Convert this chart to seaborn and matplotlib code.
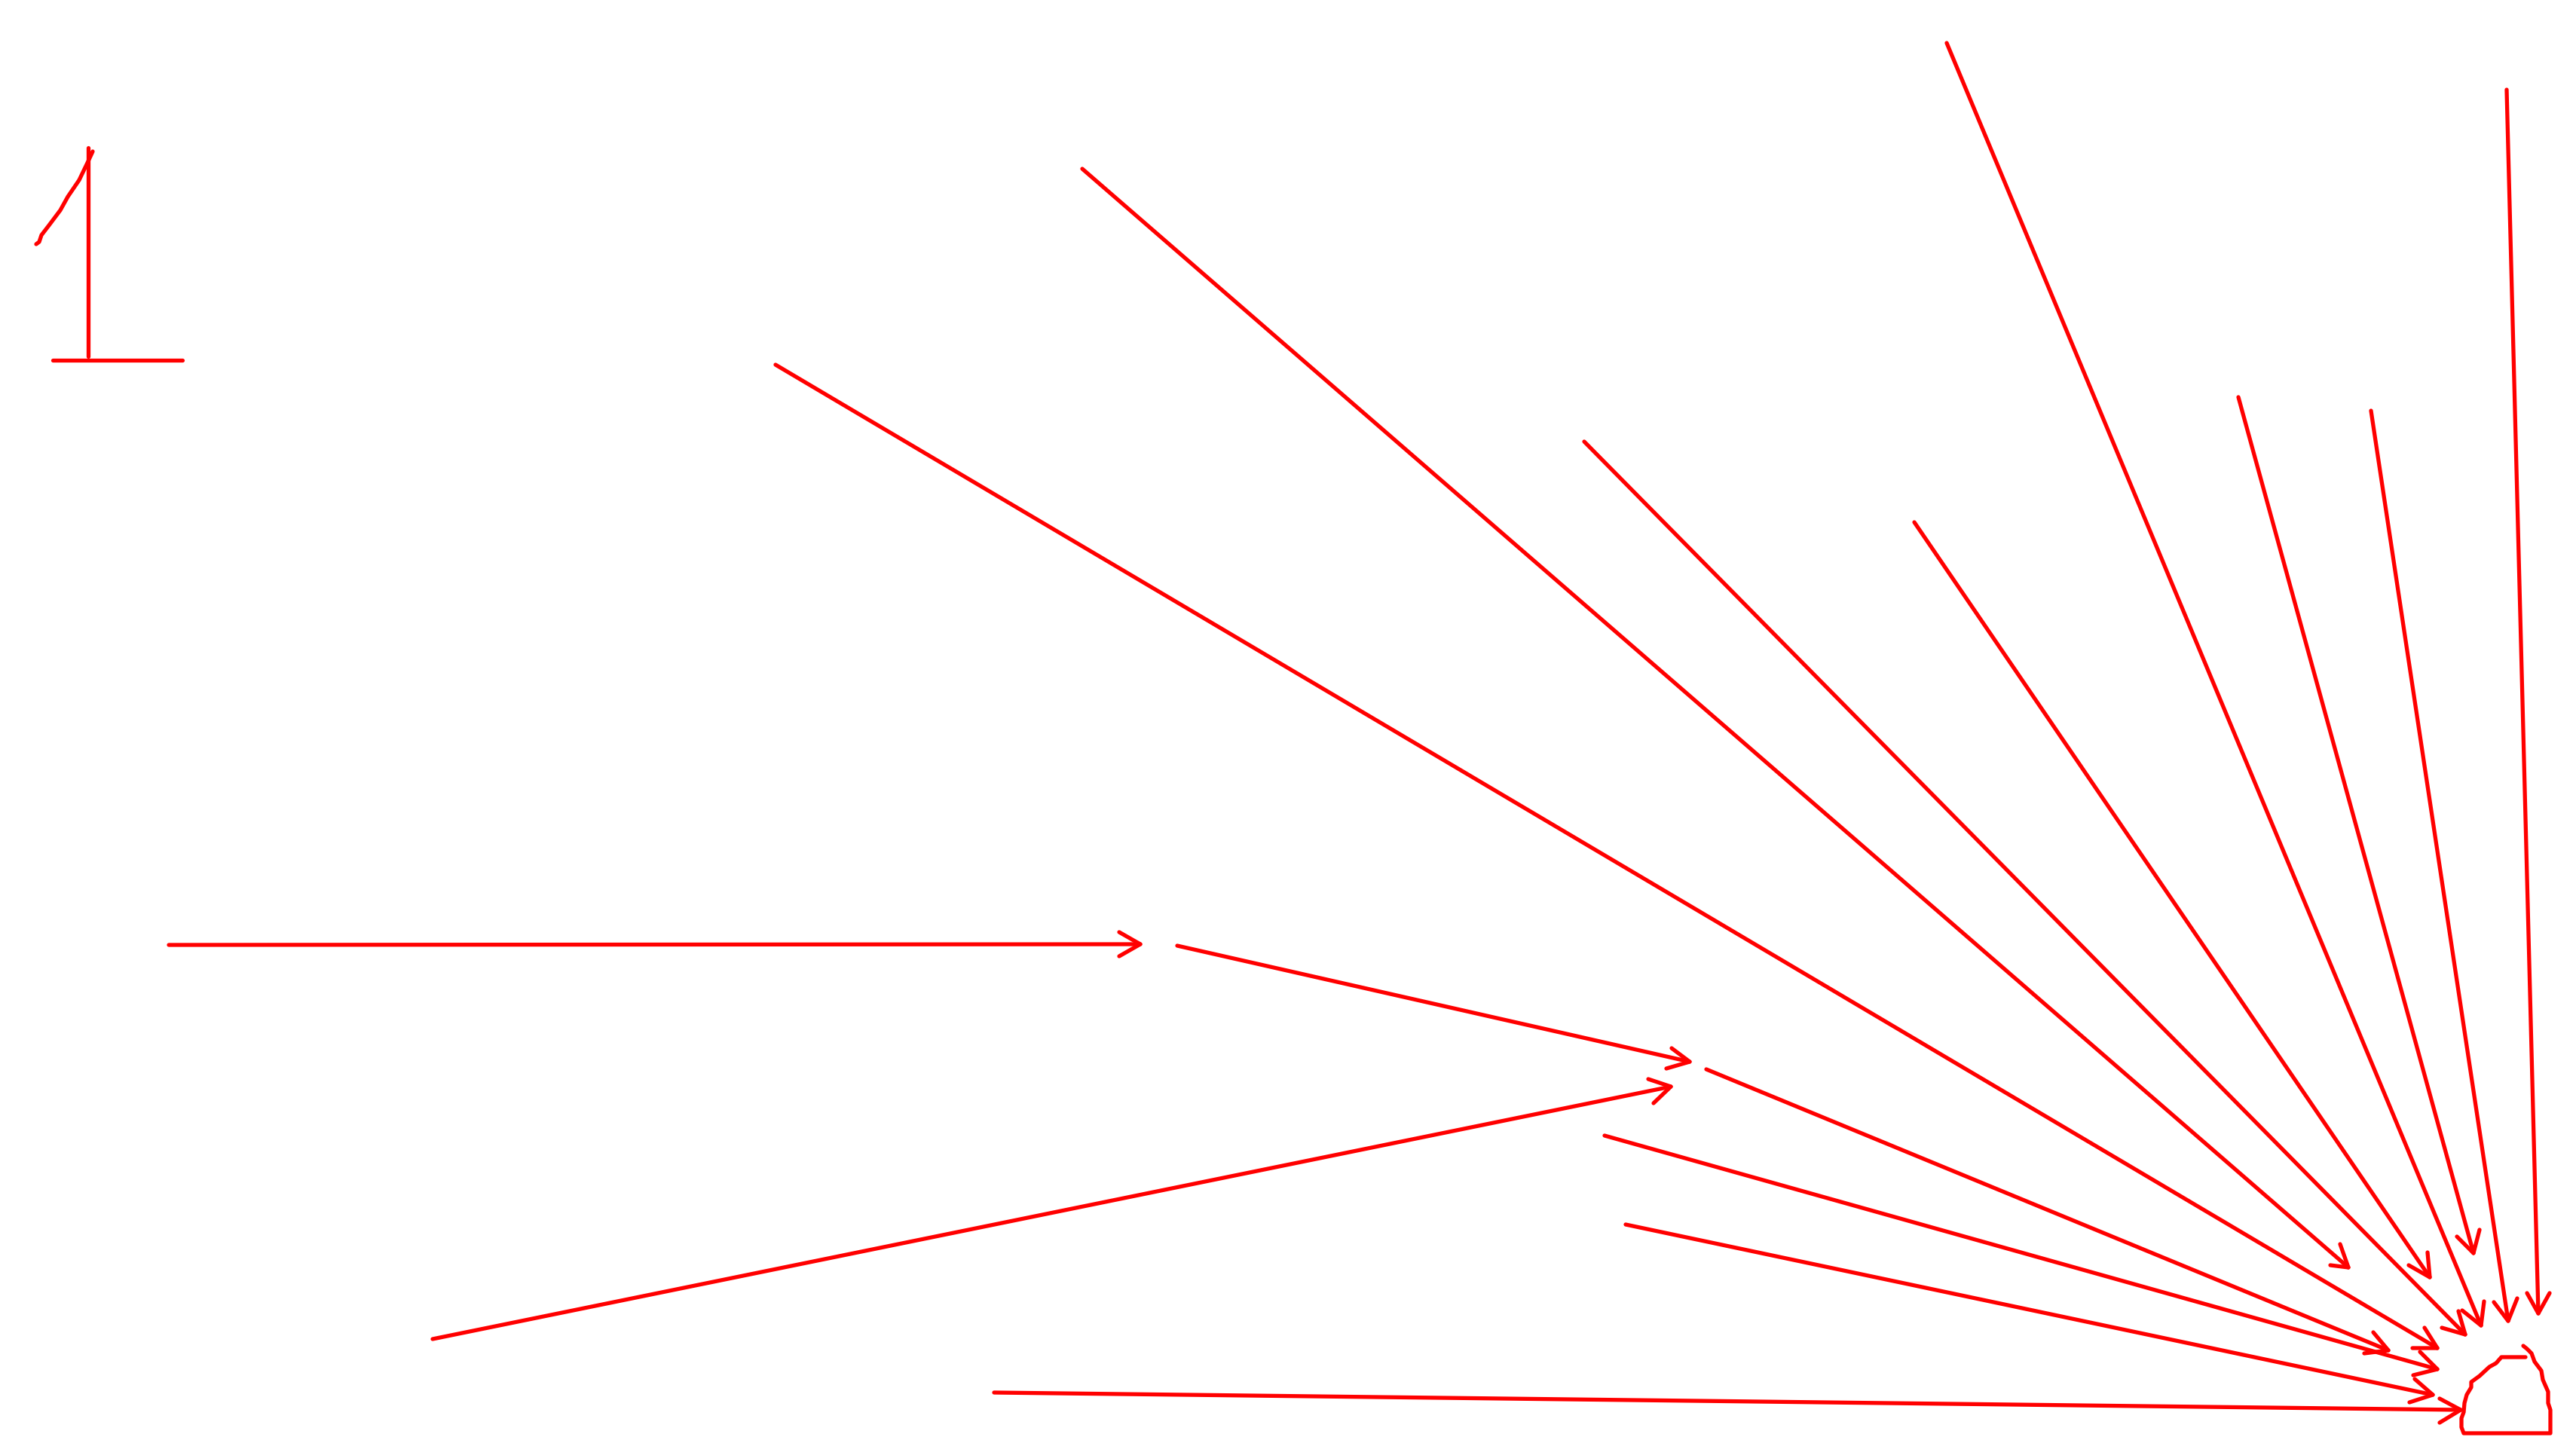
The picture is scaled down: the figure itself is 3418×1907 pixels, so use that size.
import pandas as pd
import matplotlib.pyplot as plt
import seaborn as sns

sns.set_theme(style="white")

RED = '#ff0000'
WIDTH, HEIGHT = 3418, 1908

# arrows in image pixels
arrow_x0 = [224, 1562, 574, 1319, 2157, 2129, 2264, 1029, 1436, 2102, 2540, 2583, 2970, 3146, 3326]
arrow_y0 = [1255, 1256, 1778, 1849, 1626, 1508, 1420, 485, 225, 587, 694, 58, 528, 546, 120]
arrow_x1 = [1513, 2242, 2217, 3265, 3228, 3234, 3169, 3234, 3116, 3271, 3224, 3292, 3282, 3328, 3368]
arrow_y1 = [1254, 1410, 1443, 1872, 1852, 1818, 1793, 1790, 1683, 1772, 1696, 1760, 1664, 1754, 1744]
barb_a_x = [1485, 2218, 2187, 3237, 3197, 3202, 3137, 3201, 3092, 3240, 3196, 3267, 3260, 3309, 3353]
barb_a_y = [1238, 1392, 1433, 1889, 1862, 1826, 1797, 1790, 1680, 1763, 1680, 1740, 1642, 1729, 1717]
barb_b_x = [1485, 2211, 2194, 3237, 3204, 3211, 3149, 3217, 3105, 3262, 3221, 3296, 3290, 3340, 3383]
barb_b_y = [1270, 1419, 1465, 1857, 1831, 1795, 1769, 1763, 1652, 1741, 1663, 1728, 1633, 1724, 1717]

# handwritten "1"
one_stem_x = [117, 117]
one_stem_y = [197, 474]
one_base_x = [70, 242]
one_base_y = [479, 479]
one_flag_x = [123, 117, 105, 90, 80, 65, 55, 52, 48]
one_flag_y = [202, 215, 240, 262, 280, 300, 313, 322, 325]

# dome outline at the bottom right
dome_x = [3348, 3353, 3359, 3363, 3372, 3374, 3381, 3381, 3384, 3384, 3269, 3266, 3266,
          3269, 3270, 3273, 3279, 3279, 3290, 3303, 3312, 3319, 3351]
dome_y = [1787, 1791, 1797, 1808, 1820, 1832, 1848, 1863, 1872, 1903, 1903, 1895, 1883,
          1875, 1863, 1852, 1842, 1835, 1827, 1815, 1810, 1802, 1802]

rows = []
for i in range(len(arrow_x0)):
    rows.append((f'shaft{i}', arrow_x0[i], arrow_y0[i]))
    rows.append((f'shaft{i}', arrow_x1[i], arrow_y1[i]))
    rows.append((f'head{i}', barb_a_x[i], barb_a_y[i]))
    rows.append((f'head{i}', arrow_x1[i], arrow_y1[i]))
    rows.append((f'head{i}', barb_b_x[i], barb_b_y[i]))
for name, xs, ys in [('stem', one_stem_x, one_stem_y), ('base', one_base_x, one_base_y),
                     ('flag', one_flag_x, one_flag_y), ('dome', dome_x, dome_y)]:
    rows += [(name, x, y) for x, y in zip(xs, ys)]
df = pd.DataFrame(rows, columns=['stroke', 'x', 'y'])

fig = plt.figure(figsize=(WIDTH / 100, HEIGHT / 100), dpi=100, facecolor='white')
ax = fig.add_axes([0, 0, 1, 1])
sns.lineplot(data=df, x='x', y='y', units='stroke', estimator=None, sort=False,
             color=RED, linewidth=3.8, solid_capstyle='round', solid_joinstyle='round',
             legend=False, ax=ax)
ax.set_xlim(0, WIDTH)
ax.set_ylim(HEIGHT, 0)
ax.axis('off')
fig.savefig('out.png', dpi=100, facecolor='white')
plt.close(fig)
